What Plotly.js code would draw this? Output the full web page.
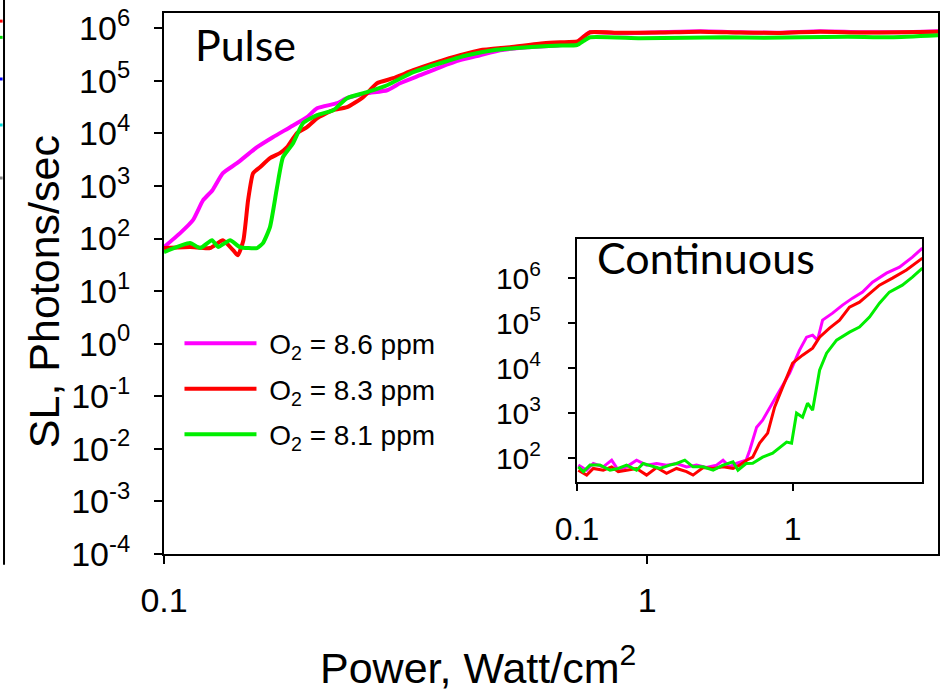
<!DOCTYPE html>
<html>
<head>
<meta charset="utf-8">
<script src="https://cdn.plot.ly/plotly-3.0.1.min.js"></script>
<style>html,body{margin:0;padding:0;background:#fff;}#chart{width:942px;height:695px;}</style>
</head>
<body>
<div id="chart"></div>
<script>
// ---------- Data ----------
var seriesNames = ["\u00a0O<sub>2</sub> = 8.6 ppm", "\u00a0O<sub>2</sub> = 8.3 ppm", "\u00a0O<sub>2</sub> = 8.1 ppm"];
var seriesColors = ["#ff00ff", "#ff0000", "#00ee00"];

// Pulse (main plot)
var pulseX_86 = [0.1, 0.108, 0.1148, 0.1205, 0.126, 0.1324, 0.1416, 0.1558, 0.168, 0.1824, 0.1977, 0.2074, 0.228, 0.2393, 0.263, 0.2896, 0.308, 0.339, 0.3727, 0.41, 0.451, 0.496, 0.565, 0.66, 0.716, 0.74, 0.762, 0.879, 1.064, 1.288, 1.56, 1.885, 2.28, 2.76, 3.34, 4.0];
var pulseY_86 = [69, 127, 224, 537, 832, 1750, 2710, 5470, 8470, 13100, 20300, 30100, 37500, 46700, 58000, 66200, 90000, 128000, 181000, 247000, 307000, 382000, 436000, 475000, 540000, 700000, 840000, 804000, 840000, 877000, 840000, 821000, 877000, 840000, 840000, 877000];

var pulseX_83 = [0.1, 0.1132, 0.1245, 0.1324, 0.139, 0.1422, 0.146, 0.1493, 0.1529, 0.158, 0.1657, 0.1737, 0.1798, 0.1884, 0.1977, 0.2074, 0.224, 0.2393, 0.2583, 0.276, 0.298, 0.328, 0.367, 0.41, 0.451, 0.52, 0.61, 0.66, 0.716, 0.74, 0.762, 0.879, 1.064, 1.288, 1.56, 1.885, 2.28, 2.76, 3.34, 4.0];
var pulseY_83 = [66, 69, 66, 93, 60, 48, 93, 537, 1750, 2275, 3380, 4210, 5470, 10100, 13100, 19400, 27600, 31500, 48800, 90000, 112000, 159000, 226000, 307000, 382000, 436000, 519000, 542000, 560000, 700000, 840000, 820000, 830000, 860000, 830000, 815000, 860000, 830000, 835000, 860000];

var pulseX_81 = [0.1, 0.1132, 0.1188, 0.1257, 0.1295, 0.137, 0.1436, 0.1558, 0.1603, 0.1657, 0.1714, 0.1763, 0.185, 0.194, 0.2074, 0.224, 0.2393, 0.263, 0.2896, 0.328, 0.3727, 0.424, 0.48, 0.565, 0.66, 0.716, 0.74, 0.762, 0.967, 1.2, 1.45, 1.75, 2.1, 2.6, 3.2, 4.0];
var pulseY_81 = [55, 82, 66, 93, 69, 93, 69, 66, 82, 165, 948, 3530, 6510, 15600, 22200, 27600, 46700, 60700, 82400, 146000, 216000, 307000, 382000, 436000, 470000, 480000, 580000, 675000, 646000, 660000, 675000, 660000, 675000, 690000, 675000, 737000];

// Continuous (inset)
var contX_86 = [0.1014, 0.1109, 0.1190, 0.1323, 0.1448, 0.1553, 0.1698, 0.1889, 0.2102, 0.2339, 0.2602, 0.2895, 0.3221, 0.3584, 0.3987, 0.4436, 0.4757, 0.5101, 0.5470, 0.6086, 0.6326, 0.681, 0.726, 0.808, 0.871, 0.969, 1.077, 1.161, 1.238, 1.305, 1.377, 1.532, 1.704, 1.896, 2.110, 2.347, 2.724, 3.13, 3.594, 4.0];
var contY_86 = [70, 54, 76, 64, 90, 54, 64, 90, 70, 76, 70, 76, 64, 70, 62, 70, 90, 64, 76, 90, 150, 488, 699, 1667, 3243, 7744, 25100, 48900, 54100, 41900, 116700, 166800, 251000, 359000, 489000, 815000, 1290000, 1750000, 2930000, 4640000];

var contX_83 = [0.1014, 0.1109, 0.1190, 0.1323, 0.1448, 0.1553, 0.1698, 0.1889, 0.2102, 0.2339, 0.2602, 0.2895, 0.3221, 0.3453, 0.3846, 0.428, 0.4757, 0.5291, 0.5682, 0.612, 0.653, 0.703, 0.766, 0.825, 0.899, 1.0, 1.112, 1.238, 1.334, 1.483, 1.651, 1.836, 2.042, 2.273, 2.528, 2.904, 3.373, 4.0];
var contY_83 = [54, 42, 59, 54, 64, 50, 54, 59, 42, 62, 46, 59, 50, 42, 62, 59, 64, 59, 70, 90, 105, 215, 359, 1359, 3782, 12900, 19400, 27800, 48900, 77400, 116700, 227000, 293000, 464000, 699000, 1000000, 1510000, 2780000];

var contX_81 = [0.1014, 0.107, 0.1149, 0.1277, 0.1422, 0.1553, 0.1698, 0.1889, 0.2028, 0.2254, 0.2420, 0.2696, 0.2895, 0.3162, 0.3453, 0.3846, 0.428, 0.4757, 0.5291, 0.5579, 0.6086, 0.653, 0.726, 0.808, 0.938, 0.989, 1.043, 1.112, 1.173, 1.238, 1.334, 1.437, 1.599, 1.836, 2.042, 2.273, 2.528, 2.81, 3.227, 3.594, 4.0];
var contY_81 = [64, 50, 70, 70, 54, 59, 70, 54, 76, 64, 59, 70, 76, 90, 64, 64, 54, 70, 83, 54, 76, 77, 105, 129, 227, 215, 1000, 815, 1667, 1166, 9030, 21500, 41900, 63100, 81500, 136000, 278000, 489000, 699000, 1050000, 1670000];

// Tick labels
var mainYTickVals = [1e-4, 1e-3, 1e-2, 1e-1, 1, 10, 100, 1e3, 1e4, 1e5, 1e6];
var mainYTickText = ["10<sup>-4</sup>", "10<sup>-3</sup>", "10<sup>-2</sup>", "10<sup>-1</sup>", "10<sup>0</sup>", "10<sup>1</sup>", "10<sup>2</sup>", "10<sup>3</sup>", "10<sup>4</sup>", "10<sup>5</sup>", "10<sup>6</sup>"];
var insetYTickVals = [100, 1e3, 1e4, 1e5, 1e6];
var insetYTickText = ["10<sup>2</sup>", "10<sup>3</sup>", "10<sup>4</sup>", "10<sup>5</sup>", "10<sup>6</sup>"];
var xTickVals = [0.1, 1];
var xTickText = ["0.1", "1"];

// ---------- Traces ----------
var pulseX = [pulseX_86, pulseX_83, pulseX_81];
var pulseY = [pulseY_86, pulseY_83, pulseY_81];
var contX = [contX_86, contX_83, contX_81];
var contY = [contY_86, contY_83, contY_81];

var traces = [];
for (var i = 0; i < 3; i++) {
  traces.push({
    x: pulseX[i], y: pulseY[i], type: 'scatter', mode: 'lines',
    name: seriesNames[i], legendgroup: 'g' + i,
    line: {color: seriesColors[i], width: 4, shape: 'spline', smoothing: 0.5},
    xaxis: 'x', yaxis: 'y'
  });
}
for (var j = 0; j < 3; j++) {
  traces.push({
    x: contX[j], y: contY[j], type: 'scatter', mode: 'lines',
    showlegend: false,
    line: {color: seriesColors[j], width: 3},
    xaxis: 'x2', yaxis: 'y2'
  });
}

var arial = 'Liberation Sans, Arial, sans-serif';
var calibri = 'Lato, Open Sans, sans-serif';

var layout = {
  width: 942, height: 695,
  margin: {l: 164, r: 4, t: 13, b: 141},
  paper_bgcolor: '#ffffff', plot_bgcolor: '#ffffff',
  showlegend: true,
  legend: {
    x: 0.02, y: 0.435, xanchor: 'left', yanchor: 'top',
    font: {family: arial, size: 28, color: '#000'},
    bgcolor: 'rgba(0,0,0,0)', tracegroupgap: 6, itemwidth: 72
  },
  xaxis: {
    type: 'log', range: [-1, 0.602], domain: [0, 1],
    showline: true, linecolor: '#000', linewidth: 2, mirror: true,
    showgrid: false, zeroline: false,
    ticks: 'outside', ticklen: 8, tickwidth: 2, tickcolor: '#000',
    tickmode: 'array', tickvals: xTickVals, ticktext: xTickText,
    tickfont: {family: arial, size: 34, color: '#000'},
    ticklabelstandoff: 7
  },
  yaxis: {
    type: 'log', range: [-4, 6.29], domain: [0, 1],
    showline: true, linecolor: '#000', linewidth: 2, mirror: true,
    showgrid: false, zeroline: false,
    ticks: 'outside', ticklen: 8, tickwidth: 2, tickcolor: '#000',
    tickmode: 'array', tickvals: mainYTickVals, ticktext: mainYTickText,
    tickfont: {family: arial, size: 34, color: '#000'},
    ticklabelstandoff: 17
  },
  xaxis2: {
    type: 'log', range: [-1, 0.6], domain: [0.5336, 0.9793], anchor: 'y2',
    showline: true, linecolor: '#000', linewidth: 2, mirror: true,
    showgrid: false, zeroline: false,
    ticks: 'outside', ticklen: 7, tickwidth: 2, tickcolor: '#000',
    tickmode: 'array', tickvals: xTickVals, ticktext: xTickText,
    tickfont: {family: arial, size: 32, color: '#000'},
    ticklabelstandoff: 11
  },
  yaxis2: {
    type: 'log', range: [1.47, 6.87], domain: [0.1331, 0.5823], anchor: 'x2',
    showline: true, linecolor: '#000', linewidth: 2, mirror: true,
    showgrid: false, zeroline: false,
    ticks: 'outside', ticklen: 7, tickwidth: 2, tickcolor: '#000',
    tickmode: 'array', tickvals: insetYTickVals, ticktext: insetYTickText,
    tickfont: {family: arial, size: 30, color: '#000'},
    ticklabelstandoff: 21
  },
  annotations: [
    {text: 'Pulse', xref: 'paper', yref: 'paper', x: 0.038, y: 0.941, xanchor: 'left', yanchor: 'middle',
     showarrow: false, font: {family: calibri, size: 43, color: '#000'}},
    {text: 'Continuous', xref: 'paper', yref: 'paper', x: 0.557, y: 0.548, xanchor: 'left', yanchor: 'middle',
     showarrow: false, font: {family: calibri, size: 43, color: '#000'}},
    {text: 'Power, Watt/cm<sup>2</sup>', xref: 'paper', yref: 'paper', x: 0.4057, y: -0.205, xanchor: 'center', yanchor: 'middle',
     showarrow: false, font: {family: arial, size: 43, color: '#000'}},
    {text: 'SL, Photons/sec', xref: 'paper', yref: 'paper', x: -0.155, y: 0.484, xanchor: 'center', yanchor: 'middle',
     textangle: -90, showarrow: false, font: {family: arial, size: 43, color: '#000'}}
  ],
  shapes: [
    {type: 'line', xref: 'paper', yref: 'paper', x0: -0.2067, x1: -0.2067, y0: -0.02, y1: 1.03,
     line: {color: '#000', width: 2}},
    {type: 'line', xref: 'paper', yref: 'paper', x0: -0.2125, x1: -0.2085, y0: 0.985, y1: 0.985, line: {color: '#ff0000', width: 3}},
    {type: 'line', xref: 'paper', yref: 'paper', x0: -0.2125, x1: -0.2085, y0: 0.955, y1: 0.955, line: {color: '#00dd00', width: 3}},
    {type: 'line', xref: 'paper', yref: 'paper', x0: -0.2125, x1: -0.2085, y0: 0.878, y1: 0.878, line: {color: '#0000ff', width: 3}},
    {type: 'line', xref: 'paper', yref: 'paper', x0: -0.2125, x1: -0.2085, y0: 0.793, y1: 0.793, line: {color: '#00dddd', width: 3}},
    {type: 'line', xref: 'paper', yref: 'paper', x0: -0.2125, x1: -0.2085, y0: 0.695, y1: 0.695, line: {color: '#888888', width: 3}}
  ]
};

Plotly.newPlot('chart', traces, layout, {displayModeBar: false, staticPlot: true});
</script>
</body>
</html>
